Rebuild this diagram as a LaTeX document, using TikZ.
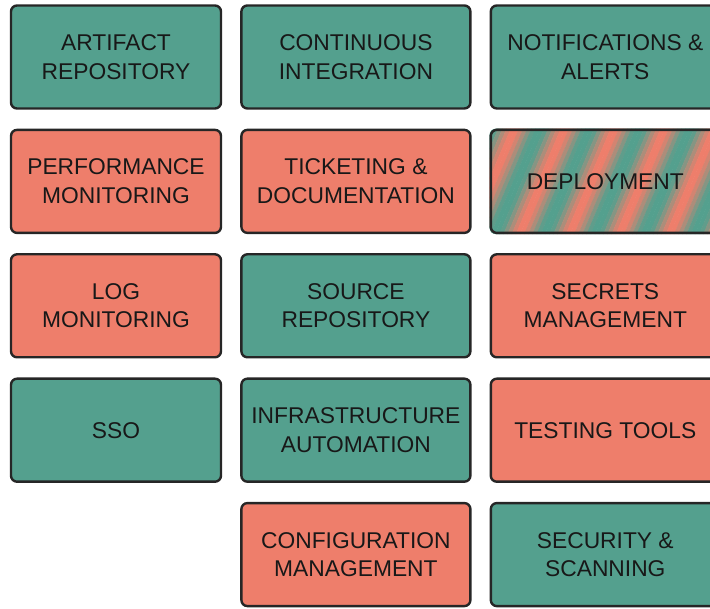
\documentclass[tikz,border=0pt]{standalone}
\usepackage{fontspec}
\setmainfont{Liberation Sans}
\definecolor{tealfill}{RGB}{84, 160, 142}
\definecolor{salmonfill}{RGB}{238, 126, 107}
\definecolor{edge}{RGB}{38, 38, 38}
\definecolor{ink}{RGB}{24, 24, 24}
\usetikzlibrary{positioning}

\begin{document}
\begin{tikzpicture}[
            x=1pt, y=1pt,
            node distance=19pt and 18pt,
            box/.style={draw=edge, line width=2.4pt, rounded corners=6pt, align=center, text=ink,
                font=\fontsize{22.8}{28.5}\selectfont, inner sep=0pt, minimum width=229pt, minimum height=103pt},
            tealbox/.style={box, fill=tealfill},
            salmonbox/.style={box, fill=salmonfill},
            narrow/.style={minimum width=210pt},
            stripebox/.style={box}
        ]
            \useasboundingbox (0,0) rectangle (710,609);
            \clip (0,0) rectangle (710,609);

            % first column
            \node[tealbox, narrow] (artifact) at (116,552) {ARTIFACT\\REPOSITORY};
            \node[salmonbox, narrow, below=of artifact] (perf) {PERFORMANCE\\MONITORING};
            \node[salmonbox, narrow, below=of perf] (logmon) {LOG\\MONITORING};
            \node[tealbox, narrow, below=of logmon] (sso) {SSO};

            % second column
            \node[tealbox, right=of artifact] (ci) {CONTINUOUS\\INTEGRATION};
            \node[salmonbox, below=of ci] (ticket) {TICKETING \&\\DOCUMENTATION};
            \node[tealbox, below=of ticket] (source) {SOURCE\\REPOSITORY};
            \node[tealbox, below=of source] (infra) {INFRASTRUCTURE\\AUTOMATION};
            \node[salmonbox, below=of infra] (config) {CONFIGURATION\\MANAGEMENT};

            % third column
            \node[tealbox, right=of ci] (notify) {NOTIFICATIONS \&\\ALERTS};
            \node[stripebox, below=of notify] (deploy) {DEPLOYMENT};
            \node[salmonbox, below=of deploy] (secrets) {SECRETS\\MANAGEMENT};
            \node[salmonbox, below=of secrets] (testing) {TESTING TOOLS};
            \node[tealbox, below=of testing] (security) {SECURITY \&\\SCANNING};

            % soft diagonal stripes behind the deployment box
            \begin{scope}
                \clip[rounded corners=6pt] (deploy.south west) rectangle (deploy.north east);
                \begin{scope}[shift={(deploy.center)}, rotate=-23]
                    \foreach \k in {-5,...,5}
                        \foreach \j in {0,...,11} {
                            \pgfmathsetmacro\mix{max(0,min(100,150*(1-abs((\j+0.5)*46/12-23)/23)-30))}
                            \fill[salmonfill!\mix!tealfill] (\k*46+11+\j*46/12,-200) rectangle (\k*46+11+\j*46/12+4.2,200);
                        }
                \end{scope}
            \end{scope}
            \node[stripebox, fill=none] at (deploy.center) {DEPLOYMENT};
        \end{tikzpicture}
\end{document}
